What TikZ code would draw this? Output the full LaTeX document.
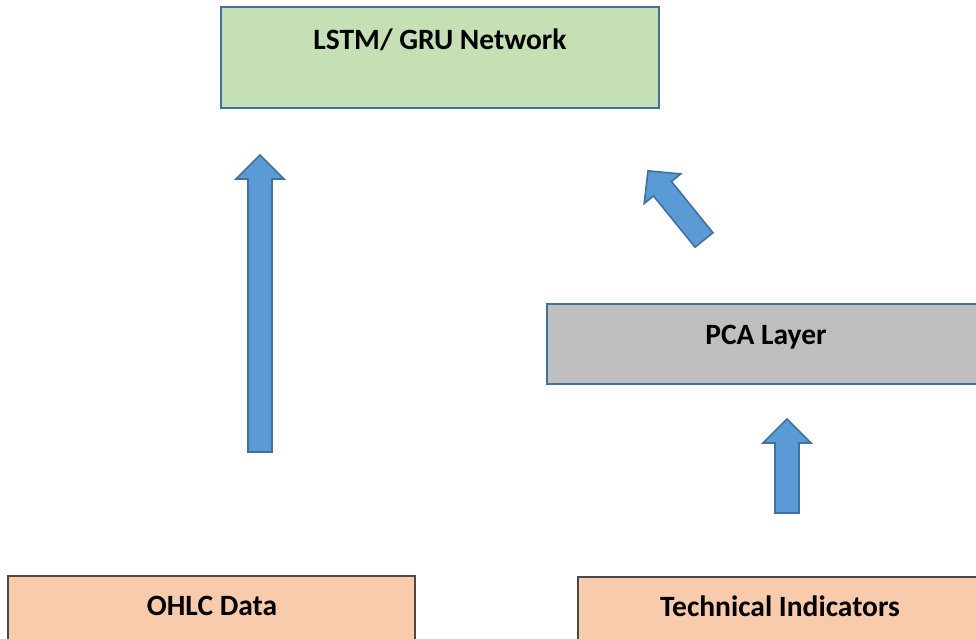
\documentclass[tikz,border=0pt]{standalone}
\usepackage{fontspec}
\setmainfont{Carlito}
\begin{document}
\begin{tikzpicture}[x=1pt,y=-1pt,
  box/.style={draw, line width=1.6pt, inner sep=0pt},
  bluebox/.style={box, draw=boxblue},
  peachbox/.style={box, draw=boxgray, fill=peach},
  lbl/.style={font=\fontsize{29.5}{34}\selectfont\bfseries, inner sep=0pt},
  arrowbody/.style={draw=boxblue, fill=arrowblue, line width=1.6pt, line join=miter},
  pics/blockarrow/.style args={#1/#2/#3/#4}{code={
    % length / shaft width / head width / head length, base at the origin, pointing up
    \draw[arrowbody] (-#2/2,0) -- (-#2/2,-#1+#4) -- (-#3/2,-#1+#4) -- (0,-#1)
      -- (#3/2,-#1+#4) -- (#2/2,-#1+#4) -- (#2/2,0) -- cycle;
  }}]
\definecolor{boxblue}{HTML}{41719C}
\definecolor{arrowblue}{HTML}{5B9BD5}
\definecolor{boxgray}{HTML}{4A4A4A}
\definecolor{green}{HTML}{C5E0B4}
\definecolor{graybox}{HTML}{BFBFBF}
\definecolor{peach}{HTML}{F8CBAD}

\useasboundingbox (0,0) rectangle (976,639);
\clip (0,0) rectangle (976,639);

% boxes
\node[bluebox, fill=green, minimum width=438pt, minimum height=101pt] (lstm) at (440,57.5) {};
\node[lbl] (lstmtext) at (440,40) {LSTM/ GRU Network};

\node[bluebox, fill=graybox, minimum width=438pt, minimum height=80pt] (pca) at (766,344) {};
\node[lbl] (pcatext) at (766,337.5) {PCA Layer};

\node[peachbox, minimum width=407pt, minimum height=80pt] (ohlc) at (211.5,616) {};
\node[lbl] (ohlctext) at (212,606) {OHLC Data};

\node[peachbox, minimum width=404pt, minimum height=80pt] (tech) at (780,617) {};
\node[lbl] (techtext) at (780,606) {Technical Indicators};

% block arrows
\coordinate (ohlcarrow) at (260,452);
\coordinate (techarrow) at (787,513);
\coordinate (pcaarrow) at (704,240);
\pic at (ohlcarrow) {blockarrow={297/24/48/24}};
\pic at (techarrow) {blockarrow={94/24/48/24}};
\pic[rotate=39] at (pcaarrow) {blockarrow={89/23/47/23}};
\end{tikzpicture}
\end{document}
